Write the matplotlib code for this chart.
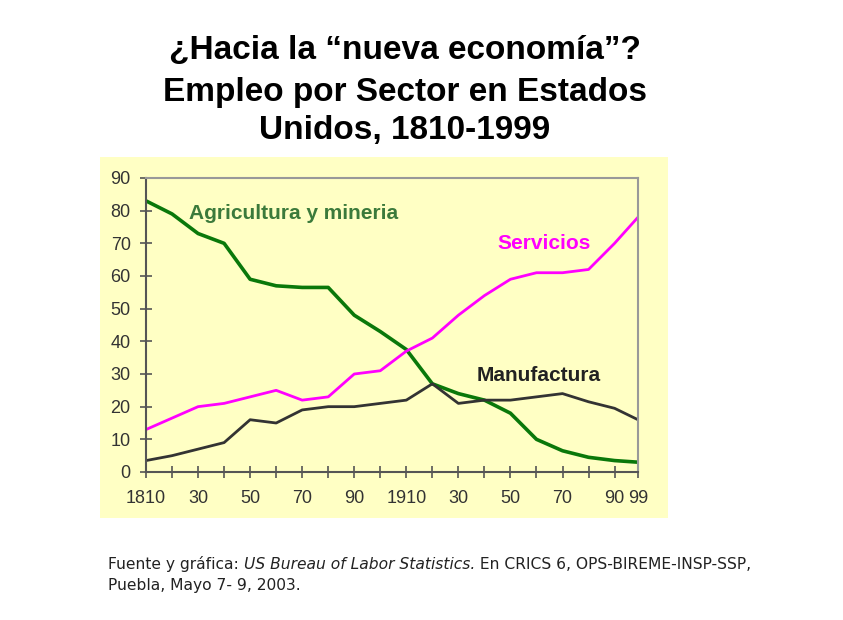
import matplotlib.pyplot as plt
from matplotlib.patches import Rectangle

years = [1810, 1820, 1830, 1840, 1850, 1860, 1870, 1880, 1890, 1900,
         1910, 1920, 1930, 1940, 1950, 1960, 1970, 1980, 1990, 1999]
agricultura = [83, 79, 73, 70, 59, 57, 56.5, 56.5, 48, 43,
               37.5, 27, 24, 22, 18, 10, 6.5, 4.5, 3.5, 3]
servicios = [13, 16.5, 20, 21, 23, 25, 22, 23, 30, 31,
             37, 41, 48, 54, 59, 61, 61, 62, 70, 78]
manufactura = [3.5, 5, 7, 9, 16, 15, 19, 20, 20, 21,
               22, 27, 21, 22, 22, 23, 24, 21.5, 19.5, 16]

tick_years = [1810, 1820, 1830, 1840, 1850, 1860, 1870, 1880, 1890, 1900,
              1910, 1920, 1930, 1940, 1950, 1960, 1970, 1980, 1990, 1999]
tick_labels = ["1810", "", "30", "", "50", "", "70", "", "90", "",
               "1910", "", "30", "", "50", "", "70", "", "90", "99"]

plt.rcParams['font.family'] = ['Liberation Sans', 'DejaVu Sans']

fig = plt.figure(figsize=(8.43, 6.2), dpi=100)
fig.patch.set_facecolor('white')

# yellow panel behind the chart
fig.add_artist(Rectangle((100 / 843, 1 - 518 / 620), 568 / 843, 361 / 620,
                         transform=fig.transFigure, facecolor='#ffffc4',
                         edgecolor='none', zorder=0))

ax = fig.add_axes([146 / 843, 1 - 472 / 620, 492 / 843, 294 / 620])
ax.set_facecolor('#ffffc4')
ax.plot(years, agricultura, color='#0a780a', lw=2.6, solid_joinstyle='round')
ax.plot(years, servicios, color='#ff00ff', lw=2.0, solid_joinstyle='round')
ax.plot(years, manufactura, color='#333333', lw=2.0, solid_joinstyle='round')

ax.set_xlim(1810, 1999)
ax.set_ylim(0, 90)
ax.set_yticks(range(0, 91, 10))
ax.set_xticks(tick_years)
ax.set_xticklabels(tick_labels)
ax.tick_params(direction='inout', length=8, width=1.2, colors='#555555',
               labelsize=13, labelcolor='#333333')
ax.tick_params(axis='x', pad=9)
ax.tick_params(axis='y', pad=7)
for side in ['left', 'bottom']:
    ax.spines[side].set_color('#555555')
    ax.spines[side].set_linewidth(1.5)
for side in ['top', 'right']:
    ax.spines[side].set_color('#999999')
    ax.spines[side].set_linewidth(1.5)

ax.text(1826.5, 79, "Agricultura y mineria", color='#3b7a3b', fontsize=15,
        fontweight='bold', va='center')
ax.text(1945, 70, "Servicios", color='#ff00ff', fontsize=15,
        fontweight='bold', va='center')
ax.text(1937, 29.5, "Manufactura", color='#222222', fontsize=15,
        fontweight='bold', va='center')

fig.text(405 / 843, 1 - 50 / 620, "¿Hacia la \u201cnueva economía\u201d?",
         ha='center', va='center', fontsize=24, fontweight='bold')
fig.text(405 / 843, 1 - 93 / 620, "Empleo por Sector en Estados",
         ha='center', va='center', fontsize=24, fontweight='bold')
fig.text(405 / 843, 1 - 131 / 620, "Unidos, 1810-1999",
         ha='center', va='center', fontsize=24, fontweight='bold')

# source note, with the italic part
fs = 11.2
note = dict(fontsize=fs, color='#222222', family='DejaVu Sans')
t1 = fig.text(108 / 843, 1 - 572 / 620, "Fuente y gráfica: ", va='bottom',
              **note)
t2 = ax.annotate("US Bureau of Labor Statistics.", xy=(1, 0), xycoords=t1,
                 va='bottom', style='italic', annotation_clip=False, **note)
ax.annotate(" En CRICS 6, OPS-BIREME-INSP-SSP,", xy=(1, 0), xycoords=t2,
            va='bottom', annotation_clip=False, **note)
fig.text(108 / 843, 1 - 593 / 620, "Puebla, Mayo 7- 9, 2003.", va='bottom',
         **note)

plt.savefig("out.png", dpi=100)
